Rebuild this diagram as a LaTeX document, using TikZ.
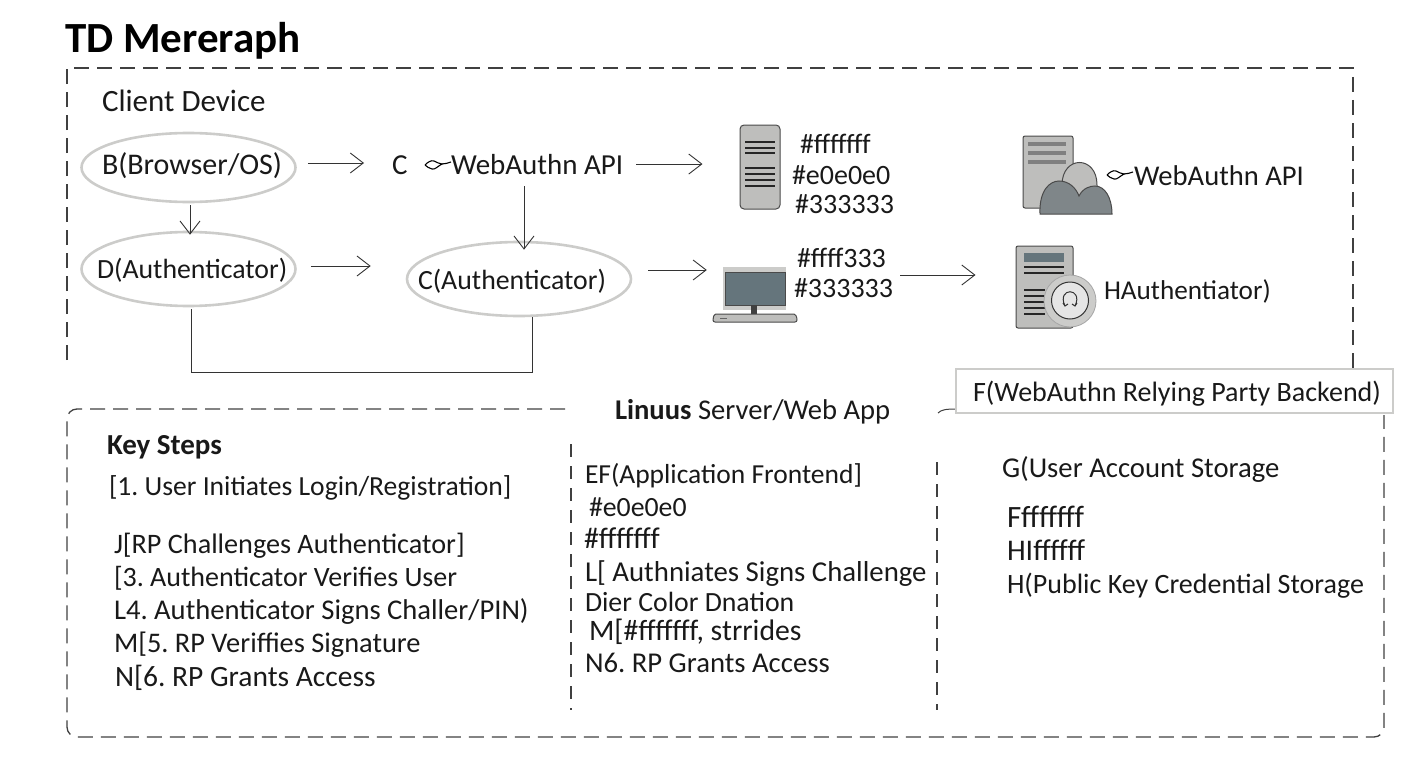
\documentclass[tikz,border=0pt]{standalone}
\usepackage{fontspec}
\setmainfont{Carlito}
\frenchspacing
\usetikzlibrary{arrows.meta}
\usetikzlibrary{shapes.geometric}

\definecolor{ringgray}{HTML}{CCCCCA}
\definecolor{boxgray}{HTML}{BEBEBC}
\definecolor{slate}{HTML}{65757C}
\definecolor{cloudgray}{HTML}{7F8689}
\definecolor{inkgray}{HTML}{4A4A4A}

\begin{document}
\begin{tikzpicture}[
  x=1pt,y=-1pt,
  >={Straight Barb[length=13pt,width=20pt]},
  flow/.style={draw=black!80,line width=0.9pt,->},
  fence/.style={draw=black!75,line width=1.3pt,dash pattern=on 15pt off 8pt},
  divider/.style={draw=black!75,line width=1.2pt,dash pattern=on 13pt off 9pt},
  txt/.style={anchor=base west,inner sep=0pt,outer sep=0pt,font=\fontsize{#1}{32}\selectfont,text=black!90},
  oval/.style={ellipse,draw=ringgray,line width=2.6pt,fill=white,inner sep=0pt},
  unit/.style={draw=inkgray,line width=1pt,fill=boxgray,rounded corners=2pt},
  leaf/.pic={
    \draw[line width=1.1pt,fill=white] (0,0) .. controls (3,-3) and (6,-5) .. (9,-4) .. controls (12,-3) and (14,-1) .. (17,-1) .. controls (13,1) and (10,5) .. (7,4) .. controls (4,3) and (2,2) .. (0,0);
    \draw[line width=1.1pt] (17,-1) .. controls (20,-1) and (23,-2) .. (26,-3);
  }]
  \useasboundingbox (0,0) rectangle (1408,768);

  \node[anchor=base west,inner sep=0pt,font=\fontsize{43}{46}\selectfont\bfseries] (title) at (65,53) {TD Mereraph};

  % dashed groups
  \draw[fence] (67,360) -- (67,68) -- (1353,68) -- (1353,370);
  \draw[fence,rounded corners=10pt] (565,409) -- (67,409) -- (67,737) -- (1384,737) -- (1384,415);
  \draw[draw=black!75,line width=1pt] (938,413) .. controls (941,410) and (945,409) .. (956,409);
  \draw[divider] (571,444) -- (571,710);
  \draw[divider] (937,462) -- (937,710);

  \node[txt=31] (client) at (102,111) {Client Device};

  % ovals
  \node[oval,minimum width=214pt,minimum height=69pt] (B) at (188.5,167.5) {};
  \node[oval,minimum width=214pt,minimum height=74pt] (D) at (188.5,269) {};
  \node[oval,minimum width=224pt,minimum height=74pt] (C2) at (519,279) {};
  \node[txt=30] (Blabel) at (102,174) {B(Browser/OS)};
  \node[txt=27.8] (Dlabel) at (97,278) {D(Authenticator)};
  \node[txt=27.8] (C2label) at (418,289) {C(Authenticator)};

  \node[txt=29] (Capi) at (392,174) {C};
  \pic at (425,165) {leaf};
  \node[txt=29] (api) at (451,174) {WebAuthn API};

  % server
  \node[unit,rounded corners=4pt,minimum width=40pt,minimum height=84pt,inner sep=0pt] (server) at (760,167) {};
  \foreach \y in {142,148,153,168,174,180,186}
    \draw[line width=1.6pt,black!85] (745,\y) -- (775,\y);
  \node[txt=28] (hexa) at (800,153) {\#fffffff};
  \node[txt=28] (hexb) at (792,184) {\#e0e0e0};
  \node[txt=28] (hexc) at (795,213) {\#333333};

  % desktop
  \node[draw=none,fill=ringgray,minimum width=63pt,minimum height=43pt,inner sep=0pt] (pc) at (754.5,288) {};
  \node[draw=inkgray,fill=slate,line width=0.8pt,minimum width=60pt,minimum height=33pt,inner sep=0pt] (screen) at (755,288.5) {};
  \fill[black!75] (751,305) rectangle (757,314);
  \draw[unit] (713,322) -- (713,318) .. controls (714,315) and (716,314) .. (718,314) -- (792,314) .. controls (795,314) and (797,316) .. (797,322) -- cycle;
  \draw[line width=1pt,black!60] (720,318) -- (727,318);
  \node[txt=28] (hexd) at (797,267) {\#ffff333};
  \node[txt=28] (hexe) at (794,297) {\#333333};

  % document with cloud
  \node[unit,minimum width=50pt,minimum height=72pt,inner sep=0pt] (docA) at (1048,172) {};
  \foreach \y in {142,151,160}
    \fill[black!50] (1028,\y) rectangle (1066,\y+4);
  \draw[draw=inkgray,line width=1pt,fill=boxgray] (1062,200) -- (1062,185) .. controls (1062,155) and (1097,155) .. (1097,185) -- (1097,200) -- cycle;
  \draw[draw=inkgray,line width=1pt,fill=cloudgray] (1040,214) .. controls (1039,190) and (1050,181) .. (1059,181) .. controls (1069,181) and (1076,188) .. (1079,196) .. controls (1083,188) and (1090,186) .. (1095,186) .. controls (1105,186) and (1112,198) .. (1112,214) -- cycle;
  \pic at (1107,175) {leaf};
  \node[txt=28.6] (apib) at (1134,185) {WebAuthn API};

  % document with seal
  \node[unit,minimum width=57pt,minimum height=82pt,inner sep=0pt] (docB) at (1044.5,287) {};
  \fill[slate] (1024,253) rectangle (1064,262);
  \foreach \y in {267,273}
    \draw[line width=1.6pt,black!85] (1024,\y) -- (1064,\y);
  \foreach \y in {290,296,302,308,314}
    \draw[line width=1.6pt,black!85] (1024,\y) -- (1045,\y);
  \node[circle,draw=black!35,fill=ringgray,line width=0.8pt,minimum size=52pt,inner sep=0pt] (seal) at (1070,301) {};
  \node[circle,draw=black!80,fill=black!10,line width=1pt,minimum size=37pt,inner sep=0pt] (sealin) at (1070,300.5) {};
  \draw[line width=1pt,black!80] (1065,306) .. controls (1056,287) and (1084,287) .. (1075,306);
  \draw[line width=1pt,black!80] (1063,303) -- (1065,306) -- (1068,304);
  \draw[line width=1pt,black!80] (1072,304) -- (1075,306) -- (1077,303);
  \node[txt=27.2] (Hlabel) at (1104,299) {HAuthentiator)};

  % connectors
  \draw[flow,shorten <=11pt,shorten >=28pt] ([yshift=4.5pt]B.east) -- ([yshift=4.5pt]B.east -| Capi.west);
  \draw[flow,shorten <=13pt,shorten >=37pt] (api.east) -- (api.east -| server.west);
  \draw[flow,shorten <=14pt,shorten >=35pt] ([yshift=3pt]D.east) -- ([yshift=3pt]D.east -| C2.west);
  \draw[flow,shorten <=16pt,shorten >=16pt] ([yshift=9pt]C2.east) -- ([yshift=9pt]C2.east -| pc.west);
  \draw[flow,shorten <=114pt,shorten >=40pt] ([yshift=13pt]pc.east) -- ([yshift=13pt]pc.east -| docB.west);
  \draw[flow,shorten <=2pt,shorten >=-4pt] ([xshift=1.5pt]B.south) -- ([xshift=1.5pt]D.north);
  \draw[flow,shorten <=12pt,shorten >=-9pt] ([xshift=5pt]C2.north |- api.south) -- ([xshift=5pt]C2.north);
  \draw[draw=black!80,line width=0.9pt,shorten <=2pt] ([xshift=2.5pt]D.south) -- ++(0,65) -| ([xshift=13pt]C2.south);

  % lower group
  \node[txt=28.6] (server title) at (615,419) {\textbf{Linuus} Server/Web App};
  \node[draw=ringgray,line width=2.4pt,fill=white,minimum width=437pt,minimum height=44pt,inner sep=0pt] (F) at (1174.5,391) {};
  \node[txt=28] (Flabel) at (973,401) {F(WebAuthn Relying Party Backend)};

  \node[txt=29,font=\fontsize{29}{32}\selectfont\bfseries] (keysteps) at (107,454) {Key Steps};
  \node[txt=27.6] (stepA) at (109,495) {[1. User Initiates Login/Registration]};
  \node[txt=28.2] (stepB) at (114,553) {J[RP Challenges Authenticator]};
  \node[txt=28] (stepC) at (114,586) {[3. Authenticator Verifies User};
  \node[txt=28.6] (stepD) at (114,619) {L4. Authenticator Signs Challer/PIN)};
  \node[txt=28.4] (stepE) at (114,652) {M[5. RP Veriffies Signature};
  \node[txt=29.5] (stepF) at (115,686) {N[6. RP Grants Access};

  \node[txt=27.5] (midA) at (585,483) {EF(Application Frontend]};
  \node[txt=27.8] (midB) at (589,516) {\#e0e0e0};
  \node[txt=30] (midC) at (584,548) {\#fffffff};
  \node[txt=28.8] (midD) at (585,581) {L[ Authniates Signs Challenge};
  \node[txt=27.8] (midE) at (585,611) {Dier Color Dnation};
  \node[txt=29.7] (midF) at (589,640) {M[\#fffffff, strrides};
  \node[txt=28.7] (midG) at (585,672) {N6. RP Grants Access};

  \node[txt=28.7] (storeA) at (1002,477) {G(User Account Storage};
  \node[txt=31] (storeB) at (1007,527) {Ffffffff};
  \node[txt=30] (storeC) at (1007,560) {HIffffff};
  \node[txt=28] (storeD) at (1007,593) {H(Public Key Credential Storage};
\end{tikzpicture}
\end{document}
